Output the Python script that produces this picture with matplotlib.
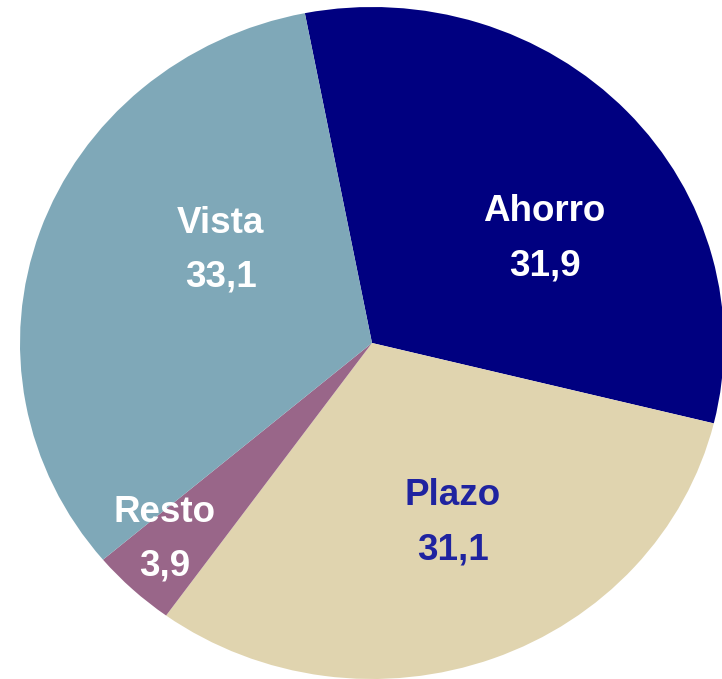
import matplotlib.pyplot as plt

# deposit shares (%)
categories = ['Ahorro', 'Plazo', 'Resto', 'Vista']
values = [31.9, 31.1, 3.9, 33.1]
value_labels = ['31,9', '31,1', '3,9', '33,1']

colors = ['#000080', '#E0D4AF', '#996689', '#7FA8B8']
text_colors = ['white', '#1F23A0', 'white', 'white']
# label centres in axes data units (pie radius = 1)
label_pos = [(0.49, 0.31), (0.23, -0.535), (-0.59, -0.585), (-0.43, 0.275)]

fig = plt.figure(figsize=(7.22, 6.79), dpi=100)
# pie is drawn slightly wider than tall, and clipped on the right like the source
ax = fig.add_axes([20 / 722, 0, 704 / 722, 672 / 679])
ax.pie(values, colors=colors, startangle=101, counterclock=False,
       wedgeprops=dict(linewidth=0))
ax.set_aspect('auto')
ax.set_xlim(-1, 1)
ax.set_ylim(-1, 1)
ax.axis('off')

for name, val, (x, y), c in zip(categories, value_labels, label_pos, text_colors):
    ax.text(x, y + 0.08, name, ha='center', va='center', fontsize=26.5,
            fontweight='bold', color=c, family='Liberation Sans')
    ax.text(x, y - 0.08, val, ha='center', va='center', fontsize=26.5,
            fontweight='bold', color=c, family='Liberation Sans')

fig.savefig('out.png', dpi=100)
